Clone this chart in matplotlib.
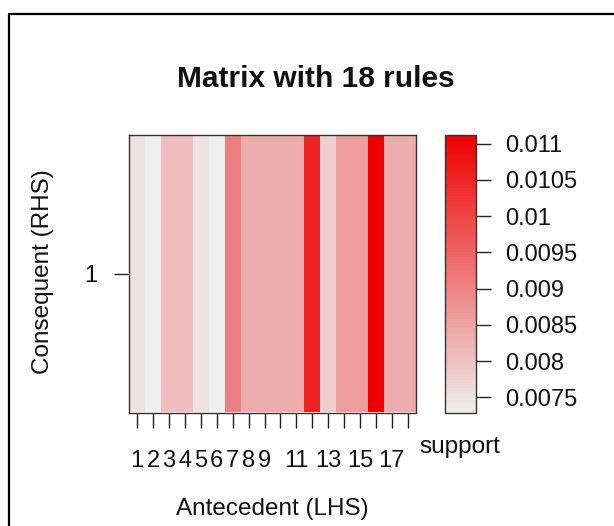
import numpy as np
import matplotlib
matplotlib.use("Agg")
import matplotlib.pyplot as plt
from matplotlib.colors import LinearSegmentedColormap
from matplotlib.lines import Line2D
import matplotlib.ticker as ticker

plt.rcParams['font.family'] = ['Liberation Sans', 'DejaVu Sans']

# support of each of the 18 rules (LHS order), single RHS
rules = np.arange(1, 19)
support = [0.00751, 0.00728, 0.00806, 0.00806, 0.00751, 0.00728, 0.00908, 0.00833, 0.00833,
           0.00833, 0.00833, 0.01056, 0.00778, 0.00860, 0.00860, 0.01112, 0.00833, 0.00833]
rhs = [1]
xtick_labels = ["1", "2", "3", "4", "5", "6", "7", "8", "9", "", "11", "", "13", "", "15", "", "17", ""]
cbar_ticks = [0.0075, 0.008, 0.0085, 0.009, 0.0095, 0.01, 0.0105, 0.011]

W, H = 614, 526
fig = plt.figure(figsize=(W / 100, H / 100), dpi=100)

def px(x0, y0, x1, y1):
    # pixel box (top-left origin) -> figure fraction rect
    return [x0 / W, 1 - y1 / H, (x1 - x0) / W, (y1 - y0) / H]

cmap = LinearSegmentedColormap.from_list("support", ["#EEEEEE", "#EE0000"], N=100)
vals = np.array(support)[None, :]

ax = fig.add_axes(px(129.3, 135.3, 415.7, 412.5))
mesh = ax.pcolormesh(np.append(rules, 19) - 0.5, [0.5, 1.5], vals, cmap=cmap,
                     vmin=min(support), vmax=max(support))
ax.set_xlim(0.5, 18.5)
ax.set_ylim(0.5, 1.5)
ax.set_xticks(rules)
ax.set_xticklabels(xtick_labels)
ax.set_yticks(rhs)
ax.set_yticklabels([str(r) for r in rhs])
ax.tick_params(axis='both', direction='out', length=11, width=1.0, color='#222222',
               labelsize=17, labelcolor='#111111')
ax.tick_params(axis='x', pad=16)
ax.tick_params(axis='y', pad=12)
for s in ax.spines.values():
    s.set_color('#333333')
    s.set_linewidth(1.0)

cax = fig.add_axes(px(445, 135, 476, 413.3))
cb = fig.colorbar(mesh, cax=cax, ticks=cbar_ticks)
cb.ax.yaxis.set_major_formatter(ticker.FuncFormatter(lambda v, p: "%g" % round(v, 5)))
cb.ax.tick_params(direction='out', length=11, width=1.0, color='#222222',
                  labelsize=17, labelcolor='#111111', pad=10)
cb.outline.set_edgecolor('#333333')
cb.outline.set_linewidth(1.0)

fig.text(316 / W, 1 - 87 / H, "Matrix with 18 rules", ha='center', va='baseline',
         fontsize=21.5, fontweight='bold', color='#111111')
fig.text(272 / W, 1 - 515 / H, "Antecedent (LHS)", ha='center', va='baseline',
         fontsize=17.5, color='#111111')
fig.text(43 / W, 1 - 272 / H, "Consequent (RHS)", ha='center', va='center',
         rotation=90, fontsize=17.5, color='#111111')
fig.text(460 / W, 1 - 453 / H, "support", ha='center', va='baseline',
         fontsize=17.5, color='#111111')

# outer frame (top and left edges only in view)
fig.add_artist(Line2D([9 / W, 9 / W, 1.02], [-0.02, 1 - 14 / H, 1 - 14 / H],
                      transform=fig.transFigure, color='black', lw=1.6))

fig.savefig("out.png", dpi=100)
